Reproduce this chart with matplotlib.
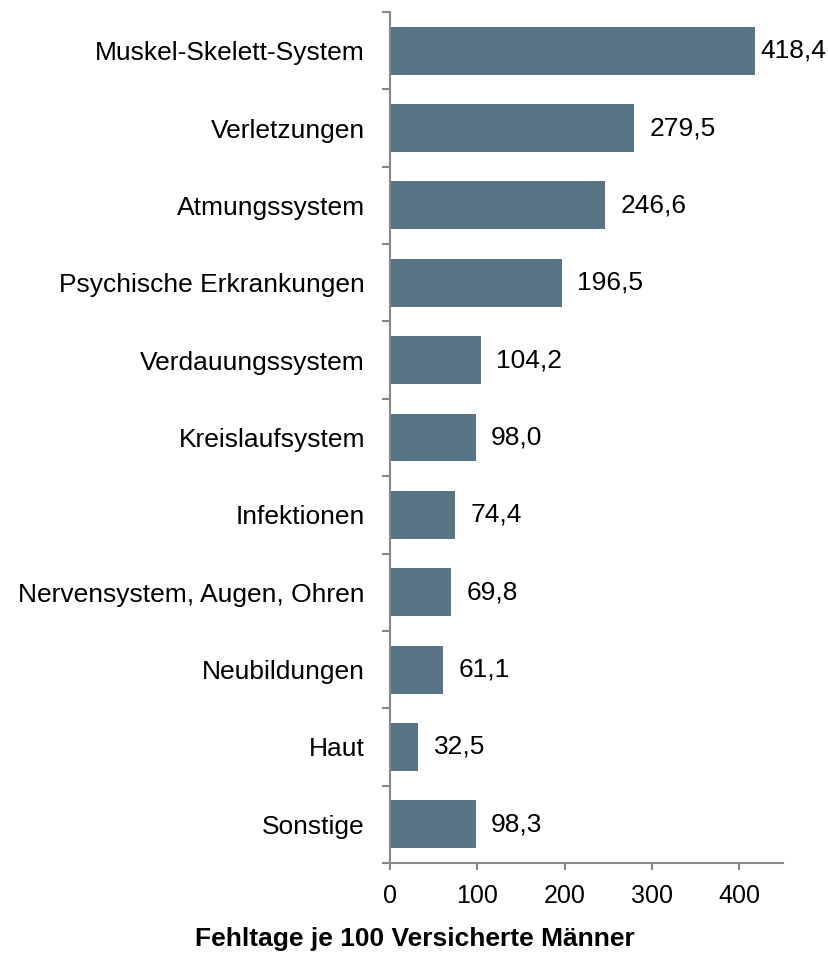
import matplotlib
matplotlib.use("Agg")
import matplotlib.pyplot as plt
import numpy as np

plt.rcParams["font.family"] = ["Liberation Sans", "DejaVu Sans"]

categories = [
    "Muskel-Skelett-System",
    "Verletzungen",
    "Atmungssystem",
    "Psychische Erkrankungen",
    "Verdauungssystem",
    "Kreislaufsystem",
    "Infektionen",
    "Nervensystem, Augen, Ohren",
    "Neubildungen",
    "Haut",
    "Sonstige",
]
values = [418.4, 279.5, 246.6, 196.5, 104.2, 98.0, 74.4, 69.8, 61.1, 32.5, 98.3]
xticks = [0, 100, 200, 300, 400]
xlabel = "Fehltage je 100 Versicherte Männer"

BAR = "#577584"
SPINE = "#888888"

fig = plt.figure(figsize=(8.29, 9.59), dpi=100)
ax = fig.add_axes([0.4704, 0.1001, 0.4741, 0.8874])

y = np.arange(len(categories))
ax.barh(y, values, height=0.62, color=BAR)

for i, v in enumerate(values):
    # the longest bar leaves little room, so its label sits closer
    off = 3.5 if v > 400 else 11
    ax.annotate(f"{v:.1f}".replace(".", ","), (v, i), xytext=(off, 0),
                textcoords="offset points", va="center", ha="left", fontsize=19)

ax.set_xlim(0, 450)
ax.set_ylim(len(categories) - 0.5, -0.5)
ax.set_yticks(y)
ax.set_yticklabels(categories, fontsize=19)
ax.set_yticks(np.arange(len(categories) + 1) - 0.5, minor=True)
ax.tick_params(axis="y", which="major", length=0, pad=18)
ax.tick_params(axis="y", which="minor", length=6, width=1.5, color=SPINE, direction="out")
ax.set_xticks(xticks)
ax.set_xticklabels([str(t) for t in xticks], fontsize=18)
ax.tick_params(axis="x", length=5, width=1.5, color=SPINE, pad=10)

for s in ["top", "right"]:
    ax.spines[s].set_visible(False)
for s in ["left", "bottom"]:
    ax.spines[s].set_color(SPINE)
    ax.spines[s].set_linewidth(1.5)

fig.text(0.5, 0.021, xlabel, ha="center", va="center", fontsize=19, fontweight="bold")

fig.savefig("out.png", dpi=100)
